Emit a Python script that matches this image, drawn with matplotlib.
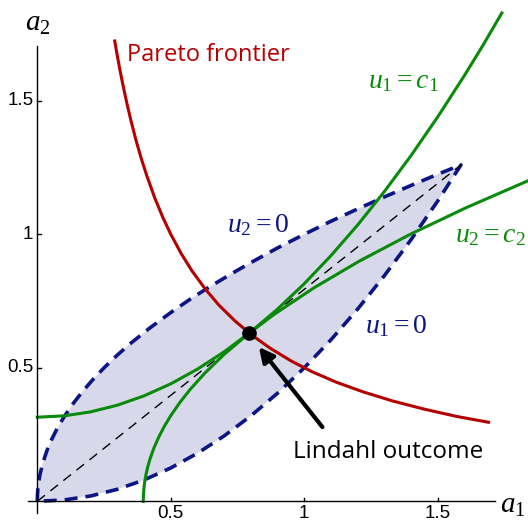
import matplotlib
matplotlib.use("Agg")
import matplotlib.pyplot as plt

plt.rcParams["mathtext.fontset"] = "custom"
plt.rcParams["mathtext.rm"] = "Liberation Serif"
plt.rcParams["mathtext.it"] = "Liberation Serif:italic"

# curves (a1, a2)
pareto_a1 = [0.29, 0.30, 0.31, 0.32, 0.335, 0.35, 0.37, 0.39, 0.41, 0.44, 0.47, 0.50, 0.54, 0.58, 0.63,
             0.68, 0.74, 0.80, 0.87, 0.95, 1.03, 1.12, 1.22, 1.33, 1.45, 1.57, 1.69]
pareto_a2 = [1.724, 1.667, 1.613, 1.563, 1.493, 1.429, 1.351, 1.282, 1.220, 1.136, 1.064, 1.0, 0.926, 0.862, 0.794,
             0.735, 0.676, 0.625, 0.575, 0.526, 0.485, 0.446, 0.410, 0.376, 0.345, 0.318, 0.296]

# u2 = 0 (upper edge of shaded set)
upper_a1 = [0.0, 0.0005, 0.002, 0.005, 0.01, 0.02, 0.035, 0.05, 0.075, 0.1, 0.135, 0.17, 0.21, 0.25, 0.3,
            0.35, 0.42, 0.5, 0.58, 0.65, 0.73, 0.8, 0.9, 1.0, 1.1, 1.2, 1.3, 1.4, 1.5, 1.587]
upper_a2 = [0.0, 0.022, 0.045, 0.071, 0.1, 0.141, 0.187, 0.224, 0.274, 0.316, 0.367, 0.412, 0.458, 0.5, 0.548,
            0.592, 0.648, 0.707, 0.762, 0.806, 0.854, 0.894, 0.949, 1.0, 1.049, 1.095, 1.140, 1.183, 1.225, 1.26]

# u1 = 0 (lower edge)
lower_a1 = [0.0, 0.1, 0.2, 0.3, 0.4, 0.5, 0.6, 0.7, 0.8, 0.9, 1.0, 1.1, 1.2, 1.3, 1.4, 1.5, 1.587]
lower_a2 = [0.0, 0.005, 0.02, 0.045, 0.08, 0.125, 0.18, 0.245, 0.32, 0.405, 0.5, 0.605, 0.72, 0.845, 0.98, 1.125, 1.26]

# u1 = c1
c1_a1 = [0.0, 0.1, 0.2, 0.3, 0.4, 0.5, 0.6, 0.7, 0.8, 0.9, 1.0, 1.1, 1.2, 1.3, 1.4, 1.5, 1.6, 1.67, 1.74]
c1_a2 = [0.315, 0.32, 0.335, 0.36, 0.395, 0.44, 0.495, 0.56, 0.635, 0.72, 0.815, 0.92, 1.035, 1.16, 1.295, 1.44,
         1.595, 1.709, 1.829]

# u2 = c2
c2_a2 = [0.0, 0.02, 0.04, 0.06, 0.08, 0.1, 0.13, 0.16, 0.2, 0.24, 0.28, 0.32, 0.37, 0.42, 0.48, 0.55, 0.63,
         0.7, 0.8, 0.9, 1.0, 1.1, 1.2]
c2_a1 = [0.397, 0.3974, 0.3986, 0.4006, 0.4034, 0.407, 0.4139, 0.4226, 0.437, 0.4546, 0.4754, 0.4994, 0.5339,
         0.5734, 0.6274, 0.6995, 0.7939, 0.887, 1.037, 1.207, 1.397, 1.607, 1.837]

ray_a1 = [0.0, 1.587]
ray_a2 = [0.0, 1.26]

lindahl = (0.794, 0.63)

x_ticks = [0.5, 1, 1.5]
x_tick_labels = ["0.5", "1", "1.5"]
y_ticks = [0.5, 1, 1.5]
y_tick_labels = ["0.5", "1", "1.5"]

RED = "#b40000"
GREEN = "#0a8a0a"
NAVY = "#0c1586"
FILL = "#d7d9ea"

fig = plt.figure(figsize=(5.28, 5.24), dpi=100)
ax = fig.add_axes([0, 0, 1, 1])
ax.set_xlim(-0.1397, 1.838)
ax.set_ylim(-0.085, 1.8775)
ax.axis("off")

# shaded set
poly_x = upper_a1 + lower_a1[::-1]
poly_y = upper_a2 + lower_a2[::-1]
ax.fill(poly_x, poly_y, color=FILL, lw=0, zorder=1)
ax.plot(poly_x, poly_y, color=NAVY, lw=2.6, dashes=(3.6, 2.2), zorder=2)

ax.plot(ray_a1, ray_a2, color="black", lw=1.0, dashes=(7, 5), zorder=3)

ax.plot(pareto_a1, pareto_a2, color=RED, lw=2.2, zorder=4)
ax.plot(c1_a1, c1_a2, color=GREEN, lw=2.2, zorder=5)
ax.plot(c2_a1, c2_a2, color=GREEN, lw=2.2, zorder=5)

ax.plot(*lindahl, "o", color="black", ms=9.5, zorder=7)

# axes drawn by hand, Mathematica style
ax.plot([-0.035, 1.714], [0, 0], color="black", lw=1.0, zorder=6)
ax.plot([0, 0], [-0.044, 1.705], color="black", lw=1.0, zorder=6)
for t, lab in zip(x_ticks, x_tick_labels):
    ax.plot([t, t], [0, 0.012], color="black", lw=1.0, zorder=6)
    ax.text(t, -0.047, lab, ha="center", va="center", fontsize=13.5, family="Liberation Sans")
for t, lab in zip(y_ticks, y_tick_labels):
    ax.plot([0, 0.012], [t, t], color="black", lw=1.0, zorder=6)
    ax.text(-0.015, t, lab, ha="right", va="center", fontsize=13.5, family="Liberation Sans")

ax.text(1.782, -0.015, "$a_1$", ha="center", va="center", fontsize=21)
ax.text(0.0, 1.79, "$a_2$", ha="center", va="center", fontsize=21)

# labels
ax.text(0.64, 1.67, "Pareto frontier", color=RED, ha="center", va="center", fontsize=17, family="Open Sans")
ax.text(1.37, 1.578, "$u_1 = c_1$", color=GREEN, ha="center", va="center", fontsize=20)
ax.text(1.696, 1.0, "$u_2 = c_2$", color=GREEN, ha="center", va="center", fontsize=20)
ax.text(0.828, 1.04, "$u_2 = 0$", color=NAVY, ha="center", va="center", fontsize=20)
ax.text(1.343, 0.66, "$u_1 = 0$", color=NAVY, ha="center", va="center", fontsize=20)

ax.annotate("", xy=(0.83, 0.578), xytext=(1.068, 0.278),
            arrowprops=dict(arrowstyle="-|>", color="black", lw=3, mutation_scale=22, shrinkA=0, shrinkB=0),
            zorder=8)
ax.text(1.313, 0.184, "Lindahl outcome", color="black", ha="center", va="center", fontsize=17.5, family="Open Sans")

fig.savefig("out.png", dpi=100)
